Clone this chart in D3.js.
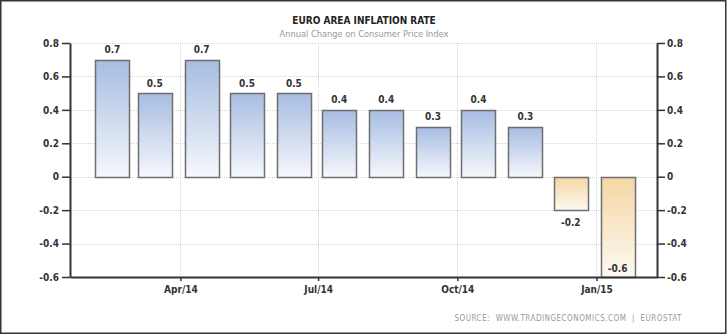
<!DOCTYPE html>
<html><head><meta charset="utf-8">
<script src="https://cdn.jsdelivr.net/npm/d3@7"></script>
<style>
html,body{margin:0;padding:0;background:#fff;}
svg{display:block;}
text{font-family:"DejaVu Sans Condensed","DejaVu Sans",sans-serif;}
</style></head>
<body>
<svg id="chart" width="728" height="335"></svg>
<script>
const months = ["2014-02","2014-03","2014-04","2014-05","2014-06","2014-07","2014-08","2014-09","2014-10","2014-11","2014-12","2015-01"];
const values = [0.7,0.5,0.7,0.5,0.5,0.4,0.4,0.3,0.4,0.3,-0.2,-0.6];
const yTicks = [0.8,0.6,0.4,0.2,0,-0.2,-0.4,-0.6];
const title = "EURO AREA INFLATION RATE";
const subtitle = "Annual Change on Consumer Price Index";
const source = "SOURCE:  WWW.TRADINGECONOMICS.COM  |  EUROSTAT";

const svg = d3.select("#chart");
const L = 70, R = 657, T = 43, B = 277;
const fmt = d => String(+d.toFixed(1));

const parse = s => { const [y,m] = s.split("-").map(Number); return new Date(Date.UTC(y, m-1, 15)); };
const x = d3.scaleUtc().domain([new Date(Date.UTC(2014,0,18)), new Date(Date.UTC(2015,1,10))]).range([L, R]);
const y = d3.scaleLinear().domain([-0.6, 0.8]).range([B, T]);
const barW = 34;

const defs = svg.append("defs");
const gPos = defs.append("linearGradient").attr("id","gpos").attr("x1",0).attr("y1",0).attr("x2",0).attr("y2",1);
gPos.append("stop").attr("offset","0%").attr("stop-color","#a7bde2");
gPos.append("stop").attr("offset","100%").attr("stop-color","#f6f8fc");
const gNeg = defs.append("linearGradient").attr("id","gneg").attr("x1",0).attr("y1",0).attr("x2",0).attr("y2",1);
gNeg.append("stop").attr("offset","0%").attr("stop-color","#f4d7a4");
gNeg.append("stop").attr("offset","100%").attr("stop-color","#fdf9f1");

// frame
svg.append("rect").attr("x",0.75).attr("y",0.75).attr("width",725).attr("height",332.5)
  .attr("fill","#fff").attr("stroke","#333").attr("stroke-width",1.5);

// grid
const xTicks = x.ticks(d3.utcMonth.every(3));
svg.append("g").selectAll("line").data(yTicks.filter(d => d !== -0.6)).join("line")
  .attr("x1",L).attr("x2",R).attr("y1",d=>Math.round(y(d))+0.5).attr("y2",d=>Math.round(y(d))+0.5)
  .attr("stroke","#d4d4d4").attr("stroke-width",1).attr("stroke-dasharray","1,1");
svg.append("g").selectAll("line").data(xTicks).join("line")
  .attr("x1",d=>Math.round(x(d))+0.5).attr("x2",d=>Math.round(x(d))+0.5).attr("y1",T).attr("y2",B)
  .attr("stroke","#d4d4d4").attr("stroke-width",1).attr("stroke-dasharray","1,1");

// bars
svg.append("g").selectAll("rect").data(values).join("rect")
  .attr("x",(d,i)=>Math.round(x(parse(months[i])) - barW/2)+0.5)
  .attr("width",barW)
  .attr("y",d=>Math.round(y(Math.max(0,d)))+0.5)
  .attr("height",d=>Math.round(Math.abs(y(d)-y(0))))
  .attr("fill",d=>d>=0?"url(#gpos)":"url(#gneg)")
  .attr("stroke","#6e6e6e").attr("stroke-width",1.5);

// value labels
svg.append("g").selectAll("text").data(values).join("text")
  .attr("x",(d,i)=>x(parse(months[i])))
  .attr("y",d=>{
    if (d >= 0) return y(d) - 6.5;
    const yy = y(d) + 16;
    return yy > B ? y(d) - 5 : yy;
  })
  .attr("text-anchor","middle").attr("font-size","10px").attr("font-weight","bold").attr("fill","#333")
  .text(fmt);

// axes
const axisLeft = d3.axisLeft(y).tickValues(yTicks).tickSize(8).tickPadding(3).tickFormat(fmt);
const axisRight = d3.axisRight(y).tickValues(yTicks).tickSize(8).tickPadding(2).tickFormat(fmt);
const axisBottom = d3.axisBottom(x).tickValues(xTicks).tickSize(4).tickPadding(5).tickFormat(d3.utcFormat("%b/%y"));

function style(g){
  g.select(".domain").attr("stroke","#333").attr("stroke-width",2);
  g.selectAll(".tick line").attr("stroke","#333").attr("stroke-width",1.5);
  g.selectAll(".tick text").attr("fill","#333").attr("font-size","10px").attr("font-weight","bold")
    .attr("font-family",'"DejaVu Sans Condensed","DejaVu Sans",sans-serif');
}
svg.append("g").attr("transform",`translate(${L},0)`).call(axisLeft.tickSizeOuter(0)).call(style);
svg.append("g").attr("transform",`translate(${R},0)`).call(axisRight.tickSizeOuter(0)).call(style);
svg.append("g").attr("transform",`translate(0,${B})`).call(axisBottom.tickSizeOuter(0)).call(style);

// titles
svg.append("text").attr("x",364).attr("y",24).attr("text-anchor","middle")
  .attr("font-size","10px").attr("font-weight","bold").attr("fill","#222").text(title);
svg.append("text").attr("x",364).attr("y",37).attr("text-anchor","middle")
  .attr("font-size","9.2px").attr("fill","#999").text(subtitle);
svg.append("text").attr("x",682).attr("y",321).attr("text-anchor","end")
  .attr("font-family",'"DejaVu Sans",sans-serif').attr("letter-spacing","0.5px")
  .attr("font-size","8px").attr("fill","#999").text(source.replace(/ /g, "\u00a0"));
</script>
</body></html>
